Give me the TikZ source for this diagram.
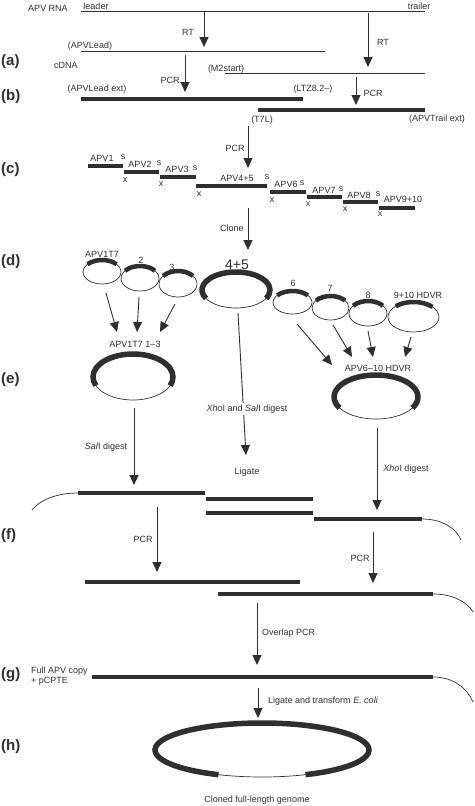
\documentclass[tikz,border=0pt]{standalone}
\usepackage{fontspec}
\setmainfont{Liberation Sans}
\usetikzlibrary{arrows.meta}
\definecolor{ink}{HTML}{2F2F2F}

% plasmid: name, cx, cy, rx, ry, arc from, arc to, arc width
\newcommand{\plasmid}[8]{%
	\coordinate (#1) at (#2,#3);
	\draw[strand] (#1) ellipse [x radius=#4, y radius=#5];
	\draw[draw=ink, line width=#8] ([shift={(#6:#4 and #5)}]#1) arc [start angle=#6, end angle=#7, x radius=#4, y radius=#5];
}

\begin{document}
\begin{tikzpicture}[
			x=1pt, y=-1pt,
			every node/.style={font=\fontsize{9}{10}\selectfont, text=ink, inner sep=1pt},
			strand/.style={draw=ink, line width=0.7pt},
			dsbar/.style={draw=ink, line width=4.5pt},
			frag/.style={draw=ink, line width=4pt},
			proc/.style={draw=ink, line width=0.9pt, -{Triangle[width=9pt,length=10pt]}},
			panel/.style={font=\fontsize{15}{16}\selectfont\bfseries, anchor=west, inner sep=0pt},
			]

				\useasboundingbox (0,0) rectangle (474,806);

				% panel letters
				\node[panel] (pa) at (1,62) {(a)};
				\node[panel] (pb) at (1,97) {(b)};
				\node[panel] (pc) at (1,170) {(c)};
				\node[panel] (pd) at (1,262) {(d)};
				\node[panel] (pe) at (1,380) {(e)};
				\node[panel] (pf) at (1,536) {(f)};
				\node[panel] (pg) at (1,675) {(g)};
				\node[panel] (ph) at (1,747) {(h)};

				% (a) RNA and cDNA
				\node (rna) at (48,8) {APV RNA};
				\node (leader) at (96,6) {leader};
				\node (trailer) at (419,6) {trailer};
				\draw[strand] (81,11) -- (425,11);
				\draw[proc] (204,11) -- (204,47);
				\node (rt1) at (188,32) {RT};
				\draw[proc] (368,13) -- (368,67);
				\node (rt2) at (383,42) {RT};
				\node (apvlead) at (90,46) {(APVLead)};
				\draw[strand] (81,51) -- (325,51);
				\node (cdna) at (66,65) {cDNA};
				\node (m2start) at (226,69) {(M2start)};
				\draw[strand] (225,73) -- (425,73);
				\draw[proc] (185,55) -- (185,92);
				\node (pcr1) at (170,80) {PCR};
				\draw[proc] (356,77) -- (356,105);
				\node (pcr2) at (373,93) {PCR};

				% (b) PCR products
				\node (leadext) at (97,89) {(APVLead ext)};
				\node (ltz) at (313,89) {(LTZ8.2--)};
				\draw[dsbar] (81,99) -- (303,99);
				\draw[dsbar] (258,110) -- (425,110);
				\node (t7l) at (262,120) {(T7L)};
				\node (trailext) at (437,119) {(APVTrail ext)};

				% (c) fragments
				\draw[proc] (248,126) -- (248,168);
				\node (pcr3) at (235,148) {PCR};
				\foreach \name/\xa/\xb/\y/\lx/\ly in {
						APV1/88/123/166/102/158, APV2/124/159/172/140/164,
						APV3/160/196/177/177/169, APV4+5/196/267/186/237/178,
						APV6/270/306/192/286/184, APV7/307/342/197/324/190,
						APV8/343/378/202/359/195, APV9+10/379/415/208/403/199}
					{
						\draw[frag] (\xa,\y) -- (\xb,\y);
						\node at (\lx,\ly) {\name};
					}
				\foreach \sx/\sy in {123/157, 159/163, 195/168, 267/177, 302/183, 341/189, 378/194}
					\node at (\sx,\sy) {s};
				\foreach \cx/\cy in {125/180, 161/184, 199/194, 272/200, 308/204, 345/209, 380/214}
					\node at (\cx,\cy) {x};
				\draw[proc] (248,208) -- (248,250);
				\node (clone) at (232,228) {Clone};

				% (d) subclones
				\plasmid{q1}{102}{272}{19}{12}{220}{320}{4.5pt}
				\plasmid{q2}{140}{278.5}{19}{12.5}{218}{322}{4.5pt}
				\plasmid{q3}{178}{284}{19}{13}{218}{322}{4.5pt}
				\plasmid{q45}{236}{290}{34}{18}{152}{388}{5.5pt}
				\plasmid{q6}{292.5}{302.5}{19.5}{11.5}{218}{322}{4.5pt}
				\plasmid{q7}{330.5}{308}{18.5}{12}{218}{322}{4.5pt}
				\plasmid{q8}{368}{313.5}{19}{12.5}{218}{322}{4.5pt}
				\plasmid{q910}{413.5}{317}{25.5}{15}{226}{318}{4.5pt}
				\node (l1) at (102,254) {APV1T7};
				\node (l2) at (141,260) {2};
				\node (l3) at (172,267) {3};
				\node[font=\fontsize{14}{15}\selectfont] (l45) at (237,265) {4+5};
				\node (l6) at (293,283) {6};
				\node (l7) at (330,288) {7};
				\node (l8) at (368,295) {8};
				\node (l910) at (418,295) {9+10 HDVR};

				% (e) combined clones
				\draw[proc] (106,293) -- (117,332);
				\draw[proc] (139,297) -- (137,332);
				\draw[proc] (175,304) -- (160,332);
				\draw[proc] (297,324) -- (332,365);
				\draw[proc] (333,325) -- (352,357);
				\draw[proc] (368,331) -- (373,357);
				\draw[proc] (411,337) -- (405,357);
				\node (c13) at (135,344) {APV1T7 1--3};
				\plasmid{r13}{133}{377}{40}{23}{158}{382}{5.5pt}
				\node (c610) at (378,368) {APV6--10 HDVR};
				\plasmid{r610}{376}{397}{42}{22}{150}{390}{5.5pt}

				\draw[proc] (238,313) -- (246,455);
				\node[fill=white, inner sep=2pt] (xsdig) at (247,409) {\textit{Xho}I and \textit{Sal}I digest};
				\node (ligate) at (247,472) {Ligate};
				\draw[proc] (134,408) -- (134,485);
				\node (saldig) at (106,447) {\textit{Sal}I digest};
				\draw[proc] (377,428) -- (377,510);
				\node (xhodig) at (406,469) {\textit{Xho}I digest};

				% (f) inserts and PCR
				\draw[strand] (78,493) .. controls (55,493) and (39,501) .. (32,510);
				\draw[dsbar] (78,493) -- (205,493);
				\draw[dsbar] (206,499) -- (313,499);
				\draw[dsbar] (206,513) -- (313,513);
				\draw[dsbar] (314,519) -- (422,519);
				\draw[strand] (422,519) .. controls (442,519) and (456,528) .. (461,540);
				\draw[proc] (157,507) -- (157,572);
				\node (pcr4) at (143,539) {PCR};
				\draw[proc] (373,532) -- (373,583);
				\node (pcr5) at (360,558) {PCR};
				\draw[dsbar] (85,582) -- (300,582);
				\draw[dsbar] (218,594) -- (433,594);
				\draw[strand] (433,594) .. controls (453,594) and (467,602) .. (473,612);
				\draw[proc] (257,603) -- (257,665);
				\node[anchor=west] (ovl) at (261,633) {Overlap PCR};

				% (g) full copy
				\node[anchor=west, align=left, font=\fontsize{9}{10}\selectfont] (full) at (30,676) {Full APV copy\\+ pCPTE};
				\draw[dsbar] (92,677) -- (433,677);
				\draw[strand] (433,677) .. controls (453,677) and (467,688) .. (473,702);
				\draw[proc] (258,688) -- (258,718);
				\node[anchor=west] (ligtr) at (267,701) {Ligate and transform \textit{E. coli}};

				% (h) final clone
				\plasmid{genome}{262}{750}{107}{27}{114}{426}{5.5pt}
				\node (cloned) at (257,800) {Cloned full-length genome};

			\end{tikzpicture}
\end{document}
